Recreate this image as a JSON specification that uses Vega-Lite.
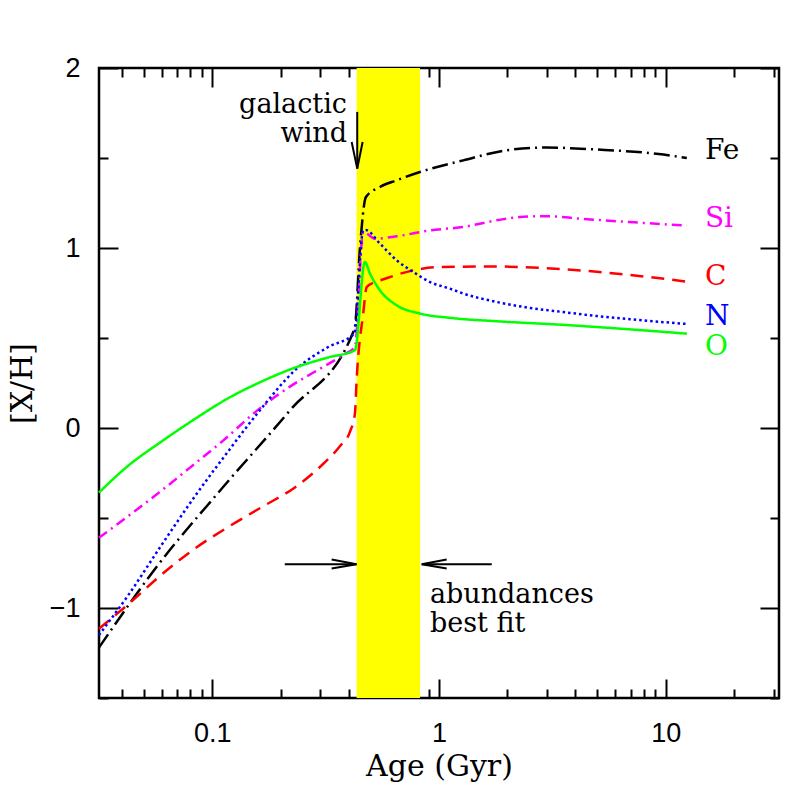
{
  "$schema": "https://vega.github.io/schema/vega-lite/v6.json",
  "width": 680,
  "height": 630,
  "autosize": "none",
  "padding": {"left": 99, "top": 68, "right": 18, "bottom": 99},
  "background": "white",
  "config": {
    "view": {"stroke": "black", "strokeWidth": 2.5},
    "axis": {
      "domain": false, "grid": false, "tickColor": "black", "tickWidth": 2,
      "labelColor": "black", "labelFont": "Liberation Sans", "labelFontSize": 27,
      "titleFont": "DejaVu Serif", "titleFontSize": 30, "titleFontWeight": "normal", "titleColor": "black"
    }
  },
  "datasets": {
    "band": [{"x1": 0.433, "x2": 0.825, "y1": -1.5, "y2": 2}],
    "curves": [
      {"el": "Fe", "x": 0.0316, "y": -1.22}, {"el": "Fe", "x": 0.0567, "y": -0.772}, {"el": "Fe", "x": 0.1116, "y": -0.328},
      {"el": "Fe", "x": 0.22, "y": 0.098}, {"el": "Fe", "x": 0.4186, "y": 0.533}, {"el": "Fe", "x": 0.4257, "y": 0.56},
      {"el": "Fe", "x": 0.448, "y": 1.0}, {"el": "Fe", "x": 0.476, "y": 1.283}, {"el": "Fe", "x": 0.549, "y": 1.339},
      {"el": "Fe", "x": 0.65, "y": 1.376}, {"el": "Fe", "x": 0.824, "y": 1.422}, {"el": "Fe", "x": 1.28, "y": 1.487},
      {"el": "Fe", "x": 1.99, "y": 1.543}, {"el": "Fe", "x": 2.985, "y": 1.558}, {"el": "Fe", "x": 4.97, "y": 1.547},
      {"el": "Fe", "x": 9.78, "y": 1.519}, {"el": "Fe", "x": 12.4, "y": 1.5},

      {"el": "Si", "x": 0.0316, "y": -0.61}, {"el": "Si", "x": 0.0425, "y": -0.49}, {"el": "Si", "x": 0.0567, "y": -0.37},
      {"el": "Si", "x": 0.0797, "y": -0.22}, {"el": "Si", "x": 0.1116, "y": -0.07}, {"el": "Si", "x": 0.157, "y": 0.095},
      {"el": "Si", "x": 0.22, "y": 0.23}, {"el": "Si", "x": 0.309, "y": 0.34}, {"el": "Si", "x": 0.384, "y": 0.41},
      {"el": "Si", "x": 0.4257, "y": 0.45}, {"el": "Si", "x": 0.463, "y": 1.089}, {"el": "Si", "x": 0.522, "y": 1.052},
      {"el": "Si", "x": 0.65, "y": 1.065}, {"el": "Si", "x": 0.913, "y": 1.098}, {"el": "Si", "x": 1.28, "y": 1.117},
      {"el": "Si", "x": 1.8, "y": 1.154}, {"el": "Si", "x": 2.277, "y": 1.172}, {"el": "Si", "x": 2.985, "y": 1.177},
      {"el": "Si", "x": 4.19, "y": 1.163}, {"el": "Si", "x": 6.97, "y": 1.144}, {"el": "Si", "x": 12.4, "y": 1.124},

      {"el": "C", "x": 0.0316, "y": -1.115}, {"el": "C", "x": 0.0425, "y": -0.98}, {"el": "C", "x": 0.059, "y": -0.82},
      {"el": "C", "x": 0.0837, "y": -0.67}, {"el": "C", "x": 0.1174, "y": -0.55}, {"el": "C", "x": 0.1649, "y": -0.44},
      {"el": "C", "x": 0.2313, "y": -0.33}, {"el": "C", "x": 0.308, "y": -0.2}, {"el": "C", "x": 0.366, "y": -0.1},
      {"el": "C", "x": 0.405, "y": -0.02}, {"el": "C", "x": 0.4257, "y": 0.08}, {"el": "C", "x": 0.433, "y": 0.265},
      {"el": "C", "x": 0.463, "y": 0.636}, {"el": "C", "x": 0.48, "y": 0.783}, {"el": "C", "x": 0.52, "y": 0.81},
      {"el": "C", "x": 0.549, "y": 0.82}, {"el": "C", "x": 0.77, "y": 0.876}, {"el": "C", "x": 1.01, "y": 0.894},
      {"el": "C", "x": 1.8, "y": 0.897}, {"el": "C", "x": 2.985, "y": 0.888}, {"el": "C", "x": 4.97, "y": 0.868},
      {"el": "C", "x": 8.25, "y": 0.84}, {"el": "C", "x": 12.4, "y": 0.813},

      {"el": "N", "x": 0.0316, "y": -1.15}, {"el": "N", "x": 0.0425, "y": -0.93}, {"el": "N", "x": 0.0597, "y": -0.65},
      {"el": "N", "x": 0.0837, "y": -0.38}, {"el": "N", "x": 0.1174, "y": -0.13}, {"el": "N", "x": 0.1649, "y": 0.11},
      {"el": "N", "x": 0.2313, "y": 0.32}, {"el": "N", "x": 0.3245, "y": 0.45}, {"el": "N", "x": 0.4186, "y": 0.52},
      {"el": "N", "x": 0.4257, "y": 0.54}, {"el": "N", "x": 0.463, "y": 1.098}, {"el": "N", "x": 0.475, "y": 1.1},
      {"el": "N", "x": 0.549, "y": 1.024}, {"el": "N", "x": 0.65, "y": 0.932}, {"el": "N", "x": 0.77, "y": 0.867},
      {"el": "N", "x": 0.913, "y": 0.811}, {"el": "N", "x": 1.118, "y": 0.774}, {"el": "N", "x": 1.28, "y": 0.747},
      {"el": "N", "x": 1.8, "y": 0.7}, {"el": "N", "x": 2.52, "y": 0.667}, {"el": "N", "x": 3.54, "y": 0.644},
      {"el": "N", "x": 4.97, "y": 0.622}, {"el": "N", "x": 6.97, "y": 0.604}, {"el": "N", "x": 12.4, "y": 0.578},

      {"el": "O", "x": 0.0316, "y": -0.359}, {"el": "O", "x": 0.0425, "y": -0.21}, {"el": "O", "x": 0.0597, "y": -0.075},
      {"el": "O", "x": 0.0837, "y": 0.05}, {"el": "O", "x": 0.1174, "y": 0.165}, {"el": "O", "x": 0.1649, "y": 0.258},
      {"el": "O", "x": 0.2313, "y": 0.335}, {"el": "O", "x": 0.3245, "y": 0.392}, {"el": "O", "x": 0.4257, "y": 0.432},
      {"el": "O", "x": 0.471, "y": 0.922}, {"el": "O", "x": 0.496, "y": 0.858}, {"el": "O", "x": 0.549, "y": 0.765},
      {"el": "O", "x": 0.65, "y": 0.682}, {"el": "O", "x": 0.824, "y": 0.636}, {"el": "O", "x": 1.118, "y": 0.612},
      {"el": "O", "x": 1.8, "y": 0.593}, {"el": "O", "x": 3.53, "y": 0.573},
      {"el": "O", "x": 6.97, "y": 0.548}, {"el": "O", "x": 12.4, "y": 0.524}
    ],
    "arrows": [
      {"id": "w1", "o": 1, "x": 0.4358, "y": 1.756}, {"id": "w1", "o": 2, "x": 0.4358, "y": 1.441},
      {"id": "w2", "o": 1, "x": 0.4118, "y": 1.589}, {"id": "w2", "o": 2, "x": 0.4358, "y": 1.441}, {"id": "w2", "o": 3, "x": 0.4603, "y": 1.589},
      {"id": "l1", "o": 1, "x": 0.2087, "y": -0.757}, {"id": "l1", "o": 2, "x": 0.433, "y": -0.757},
      {"id": "l2", "o": 1, "x": 0.336, "y": -0.731}, {"id": "l2", "o": 2, "x": 0.433, "y": -0.757}, {"id": "l2", "o": 3, "x": 0.336, "y": -0.781},
      {"id": "r1", "o": 1, "x": 0.839, "y": -0.757}, {"id": "r1", "o": 2, "x": 1.709, "y": -0.757},
      {"id": "r2", "o": 1, "x": 1.081, "y": -0.731}, {"id": "r2", "o": 2, "x": 0.839, "y": -0.757}, {"id": "r2", "o": 3, "x": 1.081, "y": -0.781}
    ],
    "ellabels": [
      {"el": "Fe", "x": 14.9, "y": 1.496}, {"el": "Si", "x": 14.9, "y": 1.117}, {"el": "C", "x": 14.9, "y": 0.793},
      {"el": "N", "x": 14.9, "y": 0.571}, {"el": "O", "x": 14.9, "y": 0.404}
    ],
    "notesRight": [
      {"t": ["galactic", "wind"], "x": 0.3925, "y": 1.75}
    ],
    "notesLeft": [
      {"t": ["abundances", "best fit"], "x": 0.912, "y": -0.973}
    ]
  },
  "resolve": {"axis": {"x": "independent", "y": "independent"}},
  "layer": [
    {
      "data": {"name": "band"},
      "mark": {"type": "rect", "color": "#ffff00"},
      "encoding": {
        "x": {"field": "x1", "type": "quantitative",
          "scale": {"type": "log", "domain": [0.031623, 31.623], "nice": false},
          "axis": {"orient": "bottom", "values": [0.1, 1, 10], "format": "~g", "tickSize": -19, "labelPadding": 41,
            "title": "Age (Gyr)", "titleX": 340, "titleY": 77, "titleBaseline": "alphabetic", "titleAlign": "center"}},
        "x2": {"field": "x2"},
        "y": {"field": "y1", "type": "quantitative",
          "scale": {"domain": [-1.5, 2], "nice": false, "zero": false},
          "axis": {"orient": "left", "values": [-1, 0, 1, 2], "format": "~g", "tickSize": -19, "labelPadding": 38,
            "title": "[X/H]", "titleX": -77, "titleY": 315, "titleAngle": 270, "titleBaseline": "middle", "titleAlign": "center"}},
        "y2": {"field": "y2"}
      }
    },
    {
      "data": {"name": "curves"},
      "mark": {"type": "line", "strokeWidth": 2.5, "interpolate": "monotone"},
      "encoding": {
        "x": {"field": "x", "type": "quantitative",
          "scale": {"type": "log", "domain": [0.031623, 31.623], "nice": false},
          "axis": {"orient": "bottom", "values": [0.04, 0.05, 0.06, 0.07, 0.08, 0.09, 0.2, 0.3, 0.4, 0.5, 0.6, 0.7, 0.8, 0.9, 2, 3, 4, 5, 6, 7, 8, 9, 20, 30],
            "tickSize": -9, "labels": false, "title": null}},
        "y": {"field": "y", "type": "quantitative",
          "scale": {"domain": [-1.5, 2], "nice": false, "zero": false},
          "axis": {"orient": "left", "values": [-1.5, -0.5, 0.5, 1.5], "tickSize": -9, "labels": false, "title": null}},
        "color": {"field": "el", "type": "nominal", "legend": null,
          "scale": {"domain": ["Fe", "Si", "C", "N", "O"], "range": ["#000000", "#ff00ff", "#ff0000", "#0000ff", "#00ff00"]}},
        "strokeDash": {"field": "el", "type": "nominal", "legend": null,
          "scale": {"domain": ["Fe", "Si", "C", "N", "O"], "range": [[16, 5, 2, 5], [10, 5, 2, 5], [13, 8], [2.5, 3], [1, 0]]}}
      }
    },
    {
      "data": {"name": "arrows"},
      "mark": {"type": "line", "color": "black", "strokeWidth": 2},
      "encoding": {
        "x": {"field": "x", "type": "quantitative",
          "scale": {"type": "log", "domain": [0.031623, 31.623], "nice": false},
          "axis": {"orient": "top", "values": [0.1, 1, 10], "tickSize": -19, "labels": false, "title": null}},
        "y": {"field": "y", "type": "quantitative",
          "scale": {"domain": [-1.5, 2], "nice": false, "zero": false},
          "axis": {"orient": "right", "values": [-1, 0, 1, 2], "tickSize": -19, "labels": false, "title": null}},
        "detail": {"field": "id"},
        "order": {"field": "o"}
      }
    },
    {
      "data": {"name": "ellabels"},
      "mark": {"type": "text", "align": "left", "baseline": "alphabetic", "font": "DejaVu Serif", "fontSize": 28},
      "encoding": {
        "x": {"field": "x", "type": "quantitative",
          "scale": {"type": "log", "domain": [0.031623, 31.623], "nice": false},
          "axis": {"orient": "top", "values": [0.04, 0.05, 0.06, 0.07, 0.08, 0.09, 0.2, 0.3, 0.4, 0.5, 0.6, 0.7, 0.8, 0.9, 2, 3, 4, 5, 6, 7, 8, 9, 20, 30],
            "tickSize": -9, "labels": false, "title": null}},
        "y": {"field": "y", "type": "quantitative",
          "scale": {"domain": [-1.5, 2], "nice": false, "zero": false},
          "axis": {"orient": "right", "values": [-1.5, -0.5, 0.5, 1.5], "tickSize": -9, "labels": false, "title": null}},
        "text": {"field": "el"},
        "color": {"field": "el", "type": "nominal", "legend": null,
          "scale": {"domain": ["Fe", "Si", "C", "N", "O"], "range": ["#000000", "#ff00ff", "#ff0000", "#0000ff", "#00ff00"]}}
      }
    },
    {
      "data": {"name": "notesRight"},
      "mark": {"type": "text", "align": "right", "baseline": "alphabetic", "font": "DejaVu Serif", "fontSize": 27, "lineHeight": 29, "color": "black"},
      "encoding": {
        "x": {"field": "x", "type": "quantitative", "scale": {"type": "log", "domain": [0.031623, 31.623], "nice": false}, "axis": null},
        "y": {"field": "y", "type": "quantitative", "scale": {"domain": [-1.5, 2], "nice": false, "zero": false}, "axis": null},
        "text": {"field": "t"}
      }
    },
    {
      "data": {"name": "notesLeft"},
      "mark": {"type": "text", "align": "left", "baseline": "alphabetic", "font": "DejaVu Serif", "fontSize": 27, "lineHeight": 29, "color": "black"},
      "encoding": {
        "x": {"field": "x", "type": "quantitative", "scale": {"type": "log", "domain": [0.031623, 31.623], "nice": false}, "axis": null},
        "y": {"field": "y", "type": "quantitative", "scale": {"domain": [-1.5, 2], "nice": false, "zero": false}, "axis": null},
        "text": {"field": "t"}
      }
    }
  ]
}
